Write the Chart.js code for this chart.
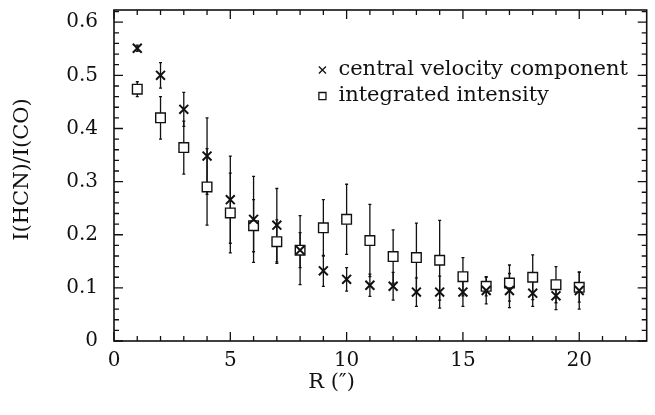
<!DOCTYPE html>
<html>
<head>
<meta charset="utf-8">
<script src="https://cdn.jsdelivr.net/npm/chart.js@4.4.1/dist/chart.umd.min.js"></script>
<style>
  html, body { margin: 0; padding: 0; background: #fff; }
  #wrap { width: 655px; height: 415px; }
</style>
</head>
<body>
<div id="wrap"><canvas id="ratio-chart"></canvas></div>
<script>
// radius in arcsec
let radius = [1, 2, 3, 4, 5, 6, 7, 8, 9, 10, 11, 12, 13, 14, 15, 16, 17, 18, 19, 20];

// I(HCN)/I(CO) of the central velocity component
let centralVel    = [0.551, 0.500, 0.436, 0.348, 0.266, 0.229, 0.218, 0.171, 0.132, 0.116,
                     0.105, 0.103, 0.092, 0.092, 0.092, 0.095, 0.095, 0.090, 0.085, 0.095];
let centralErr    = [0.006, 0.024, 0.032, 0.072, 0.082, 0.081, 0.069, 0.065, 0.029, 0.022,
                     0.021, 0.026, 0.027, 0.030, 0.027, 0.025, 0.032, 0.025, 0.026, 0.035];

// I(HCN)/I(CO) of the integrated intensity
let integrated    = [0.474, 0.420, 0.364, 0.290, 0.241, 0.217, 0.187, 0.171, 0.213, 0.229,
                     0.189, 0.159, 0.157, 0.152, 0.121, 0.103, 0.109, 0.120, 0.106, 0.101];
let integratedErr = [0.014, 0.040, 0.050, 0.072, 0.075, 0.049, 0.041, 0.033, 0.053, 0.066,
                     0.068, 0.050, 0.065, 0.075, 0.036, 0.018, 0.034, 0.042, 0.034, 0.028];

let legendLabels = ["central velocity component", "integrated intensity"];
let xTitle = "R (\u2033)";
let yTitle = "I(HCN)/I(CO)";

let serif = "'DejaVu Serif', serif";

function toPoints(xs, ys, errs) {
  let pts = [];
  for (let i = 0; i < xs.length; i++) {
    pts.push({x: xs[i], y: ys[i], err: errs[i]});
  }
  return pts;
}

// vertical error bars, drawn below the markers
const errorBars = {
  id: 'errorBars',
  beforeDatasetsDraw(chart) {
    const ctx = chart.ctx, xs = chart.scales.x, ys = chart.scales.y;
    ctx.save();
    ctx.strokeStyle = '#111';
    ctx.lineWidth = 1.3;
    chart.data.datasets.forEach(ds => {
      ds.data.forEach(p => {
        const px = xs.getPixelForValue(p.x);
        const top = ys.getPixelForValue(p.y + p.err);
        const bot = ys.getPixelForValue(p.y - p.err);
        ctx.beginPath();
        ctx.moveTo(px, top); ctx.lineTo(px, bot);
        ctx.moveTo(px - 1.5, top); ctx.lineTo(px + 1.5, top);
        ctx.moveTo(px - 1.5, bot); ctx.lineTo(px + 1.5, bot);
        ctx.stroke();
      });
    });
    ctx.restore();
  }
};

// box frame with inward ticks, axis titles and the legend
const frame = {
  id: 'frame',
  afterDraw(chart) {
    const ctx = chart.ctx, a = chart.chartArea, xs = chart.scales.x, ys = chart.scales.y;
    ctx.save();
    ctx.strokeStyle = '#111';
    ctx.lineWidth = 1.6;
    ctx.strokeRect(a.left, a.top, a.right - a.left, a.bottom - a.top);
    ctx.lineWidth = 1.3;
    ctx.beginPath();
    for (let v = 0; v <= xs.max + 1e-9; v += 1) {
      const px = xs.getPixelForValue(v);
      const len = (v % 5 === 0) ? 9 : 5;
      ctx.moveTo(px, a.bottom); ctx.lineTo(px, a.bottom - len);
      ctx.moveTo(px, a.top); ctx.lineTo(px, a.top + len);
    }
    for (let k = 0; k * 0.02 <= ys.max + 1e-9; k++) {
      const py = ys.getPixelForValue(k * 0.02);
      const len = (k % 5 === 0) ? 9 : 5;
      ctx.moveTo(a.left, py); ctx.lineTo(a.left + len, py);
      ctx.moveTo(a.right, py); ctx.lineTo(a.right - len, py);
    }
    ctx.stroke();

    // axis titles
    ctx.fillStyle = '#111';
    ctx.textAlign = 'center';
    ctx.textBaseline = 'middle';
    ctx.font = "21px " + serif;
    ctx.fillText(xTitle, chart.width / 2 + 4, 383);
    ctx.save();
    ctx.translate(23, (a.top + a.bottom) / 2 - 6);
    ctx.rotate(-Math.PI / 2);
    ctx.fillText(yTitle, 0, 0);
    ctx.restore();

    // legend
    const lx = xs.getPixelForValue(8.96), ly = ys.getPixelForValue(0.51);
    const styles = ['crossRot', 'rect'];
    ctx.textAlign = 'left';
    ctx.font = "21px " + serif;
    legendLabels.forEach((txt, i) => {
      const y = ly + i * 26;
      ctx.lineWidth = 1.3;
      ctx.fillStyle = '#fff';
      Chart.helpers.drawPoint(ctx, {pointStyle: styles[i], radius: 5, borderWidth: 1.3}, lx, y);
      ctx.fillStyle = '#111';
      ctx.fillText(txt, lx + 16, y);
    });
    ctx.restore();
  }
};

new Chart(document.getElementById("ratio-chart"), {
  type: 'scatter',
  data: {
    datasets: [{
      label: legendLabels[0],
      data: toPoints(radius, centralVel, centralErr),
      pointStyle: 'crossRot',
      pointRadius: 6.3,
      borderColor: '#111',
      borderWidth: 2,
      backgroundColor: '#111'
    }, {
      label: legendLabels[1],
      data: toPoints(radius, integrated, integratedErr),
      pointStyle: 'rect',
      pointRadius: 6.8,
      borderColor: '#111',
      borderWidth: 1.4,
      backgroundColor: '#fff'
    }]
  },
  options: {
    responsive: true,
    maintainAspectRatio: false,
    animation: false,
    layout: { padding: { top: 10, right: 3, left: 0, bottom: 0 } },
    plugins: { legend: { display: false }, tooltip: { enabled: false } },
    scales: {
      x: {
        type: 'linear',
        min: 0, max: 22.9,
        grid: { display: false, drawTicks: false },
        border: { display: false },
        ticks: { stepSize: 5, includeBounds: false, padding: 8, color: '#111',
                 font: { family: serif, size: 20 } },
        afterFit(scale) {
          scale.height = 74;
          scale.paddingLeft = 0; scale.paddingRight = 0;
        }
      },
      y: {
        min: 0, max: 0.623,
        grid: { display: false, drawTicks: false },
        border: { display: false },
        ticks: { stepSize: 0.1, includeBounds: false, padding: 16, color: '#111',
                 font: { family: serif, size: 20 },
                 callback: v => (Math.round(v * 10) / 10).toString() },
        afterFit(scale) {
          scale.width = 114;
          scale.paddingTop = 0; scale.paddingBottom = 0;
        }
      }
    }
  },
  plugins: [errorBars, frame]
});
</script>
</body>
</html>
